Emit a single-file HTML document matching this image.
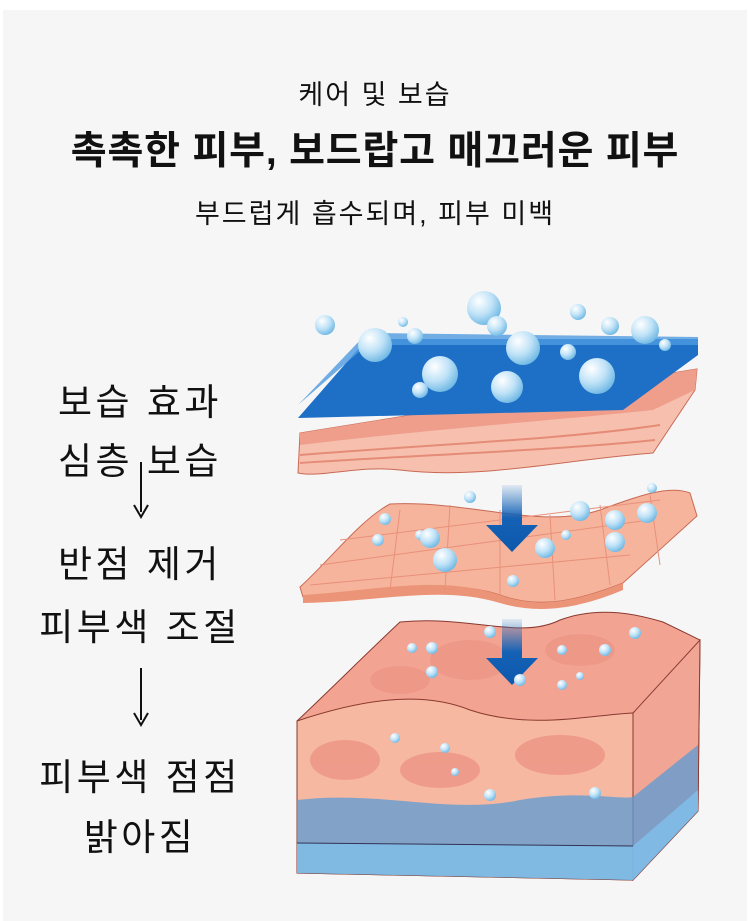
<!DOCTYPE html>
<html><head><meta charset="utf-8"><style>
body{margin:0;width:750px;height:921px;background:#fff;overflow:hidden;font-family:"Liberation Sans","Noto Sans CJK KR",sans-serif;color:#111}
#bg{position:absolute;left:3px;top:10px;width:744px;height:911px;background:#f6f6f6}
.t{position:absolute;left:0;width:750px;text-align:center;white-space:nowrap;line-height:1}
.l{position:absolute;left:0;width:280px;text-align:center;font-size:37px;letter-spacing:3.5px;white-space:nowrap;line-height:1}
</style></head><body>
<div id="bg"></div>
<div class="t" style="top:82px;font-size:27px;letter-spacing:2px">케어 및 보습</div>
<div class="t" style="top:132px;font-size:39px;font-weight:bold;letter-spacing:0.8px">촉촉한 피부, 보드랍고 매끄러운 피부</div>
<div class="t" style="top:201px;font-size:27px;letter-spacing:2px">부드럽게 흡수되며, 피부 미백</div>
<div class="l" style="top:384px">보습 효과</div>
<div class="l" style="top:443px">심층 보습</div>
<div class="l" style="top:546px">반점 제거</div>
<div class="l" style="top:609px">피부색 조절</div>
<div class="l" style="top:759px">피부색 점점</div>
<div class="l" style="top:819px">밝아짐</div>
<svg style="position:absolute;left:0;top:0" width="750" height="921">
<defs>
<radialGradient id="b" cx="0.35" cy="0.3" r="0.8"><stop offset="0" stop-color="#fff"/><stop offset="0.5" stop-color="#bfe2f7"/><stop offset="1" stop-color="#5fb0e0"/></radialGradient>
<linearGradient id="ar" x1="0" y1="0" x2="0" y2="1"><stop offset="0" stop-color="#1e6fc0" stop-opacity="0.1"/><stop offset="0.5" stop-color="#1461b5"/><stop offset="1" stop-color="#0d58ad"/></linearGradient>
</defs>
<g stroke="#111" stroke-width="2" fill="#111">
<line x1="141" y1="462" x2="141" y2="512"/><path d="M134 505 L141 517 L148 505" fill="none"/>
<line x1="141" y1="668" x2="141" y2="720"/><path d="M134 713 L141 725 L148 713" fill="none"/>
</g>
<path d="M297 721 C330 690 370 650 400 622 C470 615 520 640 560 620 C600 605 640 615 663 622 L700 640 L698 811 L633 880 L297 873 Z" fill="#f2a392" stroke="#8a3a30" stroke-width="1"/>
<path d="M297 721 C360 700 420 690 470 710 C530 730 590 715 633 713 L633 880 L297 873 Z" fill="#f6b8a0" stroke="#8a3a30" stroke-width="1"/>
<path d="M633 713 L700 640 L698 811 L633 880 Z" fill="#f0a595" stroke="#8a3a30" stroke-width="1"/>
<g fill="#ee9888" opacity="0.9">
<ellipse cx="345" cy="760" rx="35" ry="20"/><ellipse cx="440" cy="770" rx="40" ry="18"/><ellipse cx="560" cy="755" rx="45" ry="20"/>
<ellipse cx="470" cy="660" rx="40" ry="20"/><ellipse cx="580" cy="650" rx="35" ry="16"/><ellipse cx="400" cy="680" rx="30" ry="14"/>
</g>
<path d="M297 800 C380 790 450 815 520 800 C580 790 620 800 633 797 L698 745 L698 811 L633 880 L297 873 Z" fill="#5b9bd6" opacity="0.75"/>
<path d="M297 843 L633 846 L698 790 L698 811 L633 880 L297 873 Z" fill="#7fc0ea" opacity="0.8"/>
<line x1="297" y1="843" x2="633" y2="846" stroke="#335" stroke-width="1"/>
<path d="M300 587 C330 560 360 520 390 504 C470 500 540 530 600 510 C640 495 670 485 690 493 L697 516 L623 583 C580 600 540 610 500 595 C440 575 380 600 303 597 Z" fill="#f6b49c" stroke="#c86a55" stroke-width="1"/>
<path d="M303 595 C380 590 440 575 500 595 C540 610 580 600 623 583 L623 590 C580 608 540 615 500 603 C440 585 380 602 303 603 Z" fill="#ec9478"/>
<g stroke="#e8907a" stroke-width="1" fill="none">
<path d="M340 540 L660 500"/><path d="M320 565 L650 520"/><path d="M310 585 L630 555"/>
<path d="M400 510 L390 590"/><path d="M450 505 L445 590"/><path d="M500 510 L500 595"/><path d="M550 515 L555 600"/><path d="M600 505 L610 585"/><path d="M650 495 L660 565"/>
</g>
<path d="M300 433 L697 369 L695 390 L653 453 C560 460 480 480 400 470 C360 465 320 478 298 473 Z" fill="#f7c0ae" stroke="#c86a55" stroke-width="1"/>
<path d="M300 433 L697 369 L695 390 L653 410 C560 420 420 430 300 445 Z" fill="#ef9e8c"/>
<g stroke="#e58c78" stroke-width="2" fill="none"><path d="M300 455 C420 445 560 440 660 425"/><path d="M300 463 C420 455 560 450 655 440"/></g>
<path d="M298 418 L367 339 L698 339 L698 355 L623 410 Z" fill="#1e6fc6"/>
<path d="M298 405 L367 333 L698 337 L698 345 L367 345 Z" fill="#4e9be0" opacity="0.8"/>
<path d="M502 485 L522 485 L522 525 L538 525 L512 552 L486 525 L502 525 Z" fill="url(#ar)"/>
<path d="M502 619 L522 619 L522 658 L538 658 L512 685 L486 658 L502 658 Z" fill="url(#ar)"/>
<g fill="url(#b)">
<circle cx="325" cy="325" r="10"/><circle cx="375" cy="345" r="17"/><circle cx="403" cy="322" r="5"/><circle cx="415" cy="336" r="8"/>
<circle cx="484" cy="308" r="17"/><circle cx="497" cy="326" r="10"/><circle cx="523" cy="348" r="17"/><circle cx="578" cy="312" r="8"/>
<circle cx="610" cy="326" r="9"/><circle cx="645" cy="330" r="14"/><circle cx="665" cy="345" r="6"/><circle cx="568" cy="352" r="8"/>
<circle cx="440" cy="374" r="18"/><circle cx="420" cy="390" r="8"/><circle cx="507" cy="387" r="16"/><circle cx="597" cy="376" r="18"/>
<circle cx="385" cy="519" r="6"/><circle cx="378" cy="540" r="6"/><circle cx="420" cy="535" r="5"/><circle cx="430" cy="538" r="10"/><circle cx="445" cy="560" r="12"/>
<circle cx="470" cy="497" r="6"/><circle cx="580" cy="511" r="10"/><circle cx="545" cy="548" r="10"/><circle cx="566" cy="535" r="5"/>
<circle cx="615" cy="520" r="10"/><circle cx="647" cy="513" r="10"/><circle cx="615" cy="542" r="10"/><circle cx="652" cy="488" r="5"/>
<circle cx="513" cy="581" r="6"/><circle cx="412" cy="648" r="5"/><circle cx="432" cy="648" r="6"/><circle cx="432" cy="672" r="6"/>
<circle cx="490" cy="632" r="6"/><circle cx="520" cy="680" r="6"/><circle cx="562" cy="650" r="5"/><circle cx="605" cy="650" r="6"/>
<circle cx="635" cy="633" r="6"/><circle cx="562" cy="685" r="5"/><circle cx="580" cy="676" r="4"/><circle cx="395" cy="738" r="5"/>
<circle cx="445" cy="748" r="5"/><circle cx="490" cy="795" r="6"/><circle cx="595" cy="793" r="6"/><circle cx="455" cy="772" r="4"/>
</g>
</svg>
</body></html>
